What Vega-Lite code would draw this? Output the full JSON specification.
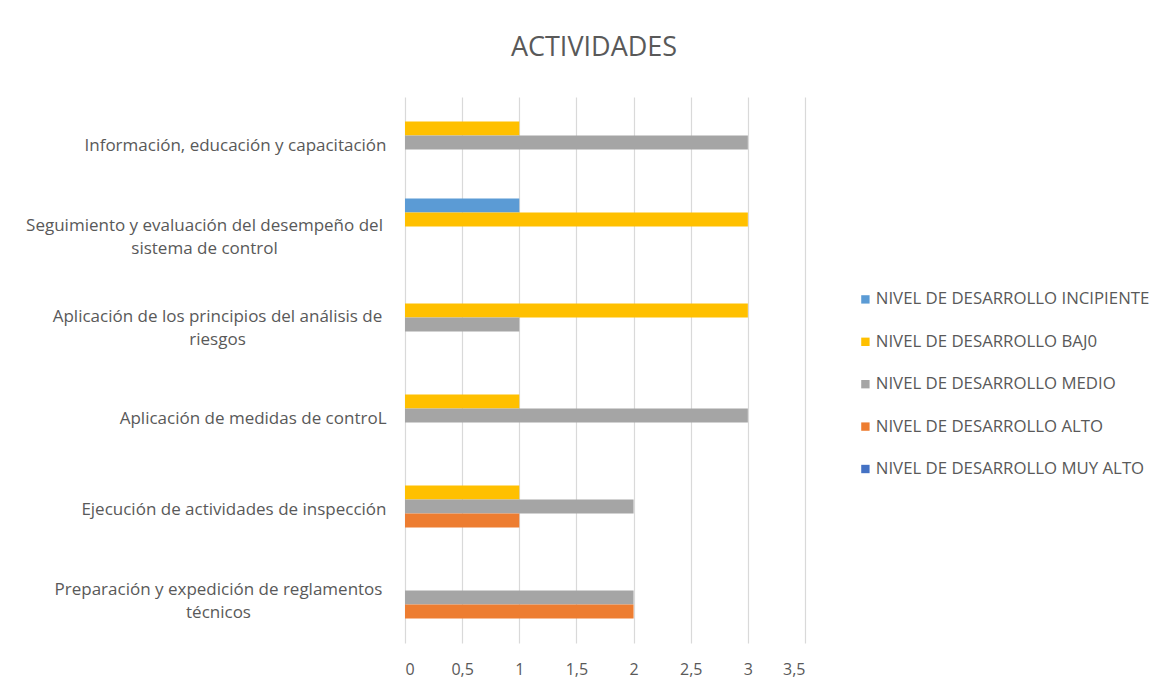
{
  "$schema": "https://vega.github.io/schema/vega-lite/v6.json",
  "autosize": "none",
  "width": 400,
  "height": 546,
  "padding": {"left": 405, "top": 97, "right": 370, "bottom": 46},
  "background": "white",
  "title": {
    "text": "ACTIVIDADES",
    "font": "Open Sans",
    "fontSize": 27,
    "fontWeight": "normal",
    "color": "#595959",
    "anchor": "middle",
    "frame": "group",
    "dx": -11,
    "offset": 35
  },
  "data": {
    "values": [
      {"actividad": "Información, educación y capacitación", "nivel": "NIVEL DE DESARROLLO BAJ0", "valor": 1},
      {"actividad": "Información, educación y capacitación", "nivel": "NIVEL DE DESARROLLO MEDIO", "valor": 3},
      {"actividad": "Seguimiento y evaluación del desempeño del\nsistema de control", "nivel": "NIVEL DE DESARROLLO INCIPIENTE", "valor": 1},
      {"actividad": "Seguimiento y evaluación del desempeño del\nsistema de control", "nivel": "NIVEL DE DESARROLLO BAJ0", "valor": 3},
      {"actividad": "Aplicación de los principios del análisis de\nriesgos", "nivel": "NIVEL DE DESARROLLO BAJ0", "valor": 3},
      {"actividad": "Aplicación de los principios del análisis de\nriesgos", "nivel": "NIVEL DE DESARROLLO MEDIO", "valor": 1},
      {"actividad": "Aplicación de medidas de controL", "nivel": "NIVEL DE DESARROLLO BAJ0", "valor": 1},
      {"actividad": "Aplicación de medidas de controL", "nivel": "NIVEL DE DESARROLLO MEDIO", "valor": 3},
      {"actividad": "Ejecución de actividades de inspección", "nivel": "NIVEL DE DESARROLLO BAJ0", "valor": 1},
      {"actividad": "Ejecución de actividades de inspección", "nivel": "NIVEL DE DESARROLLO MEDIO", "valor": 2},
      {"actividad": "Ejecución de actividades de inspección", "nivel": "NIVEL DE DESARROLLO ALTO", "valor": 1},
      {"actividad": "Preparación y expedición de reglamentos\ntécnicos", "nivel": "NIVEL DE DESARROLLO MEDIO", "valor": 2},
      {"actividad": "Preparación y expedición de reglamentos\ntécnicos", "nivel": "NIVEL DE DESARROLLO ALTO", "valor": 2}
    ]
  },
  "mark": {"type": "bar"},
  "encoding": {
    "y": {
      "field": "actividad",
      "type": "nominal",
      "scale": {
        "domain": [
          "Información, educación y capacitación",
          "Seguimiento y evaluación del desempeño del\nsistema de control",
          "Aplicación de los principios del análisis de\nriesgos",
          "Aplicación de medidas de controL",
          "Ejecución de actividades de inspección",
          "Preparación y expedición de reglamentos\ntécnicos"
        ],
        "paddingInner": 0.23,
        "paddingOuter": 0.115
      },
      "axis": {
        "title": null,
        "domain": false,
        "ticks": false,
        "grid": false,
        "labelExpr": "split(datum.label, '\\n')",
        "labelFont": "Open Sans",
        "labelFontSize": 17,
        "labelColor": "#595959",
        "labelLineHeight": 23,
        "labelLimit": 500,
        "labelAlign": {"condition": {"test": "indexof(datum.value, '\\n') >= 0", "value": "center"}, "value": "right"},
        "labelPadding": {"condition": [
          {"test": "indexof(datum.value, 'Seguimiento') >= 0", "value": 201},
          {"test": "indexof(datum.value, 'principios') >= 0", "value": 188},
          {"test": "indexof(datum.value, 'Preparación') >= 0", "value": 187}
        ], "value": 19},
        "labelOffset": {"condition": {"test": "indexof(datum.value, '\\n') >= 0", "value": -8}, "value": 3}
      }
    },
    "yOffset": {
      "field": "nivel",
      "type": "nominal",
      "scale": {
        "domain": [
          "NIVEL DE DESARROLLO INCIPIENTE",
          "NIVEL DE DESARROLLO BAJ0",
          "NIVEL DE DESARROLLO MEDIO",
          "NIVEL DE DESARROLLO ALTO",
          "NIVEL DE DESARROLLO MUY ALTO"
        ],
        "paddingInner": 0,
        "paddingOuter": 0
      }
    },
    "x": {
      "field": "valor",
      "type": "quantitative",
      "scale": {"domain": [0, 3.5], "nice": false},
      "axis": {
        "title": null,
        "domain": false,
        "ticks": false,
        "values": [0, 0.5, 1, 1.5, 2, 2.5, 3, 3.5],
        "labelExpr": "replace(format(datum.value, '~g'), '.', ',')",
        "labelFont": "Open Sans",
        "labelFontSize": 16,
        "labelColor": "#595959",
        "labelPadding": 18,
        "gridColor": "#d9d9d9",
        "gridWidth": 1.2
      }
    },
    "color": {
      "field": "nivel",
      "type": "nominal",
      "scale": {
        "domain": [
          "NIVEL DE DESARROLLO INCIPIENTE",
          "NIVEL DE DESARROLLO BAJ0",
          "NIVEL DE DESARROLLO MEDIO",
          "NIVEL DE DESARROLLO ALTO",
          "NIVEL DE DESARROLLO MUY ALTO"
        ],
        "range": ["#5B9BD5", "#FFC000", "#A5A5A5", "#ED7D31", "#4472C4"]
      },
      "legend": {
        "title": null,
        "orient": "none",
        "legendX": 452,
        "legendY": 194,
        "symbolType": "square",
        "symbolSize": 70,
        "symbolStrokeWidth": 0,
        "labelFont": "Open Sans",
        "labelFontSize": 16.8,
        "labelColor": "#595959",
        "labelOffset": 2,
        "rowPadding": 24.4,
        "labelLimit": 400
      }
    }
  },
  "config": {
    "view": {"stroke": null}
  }
}
